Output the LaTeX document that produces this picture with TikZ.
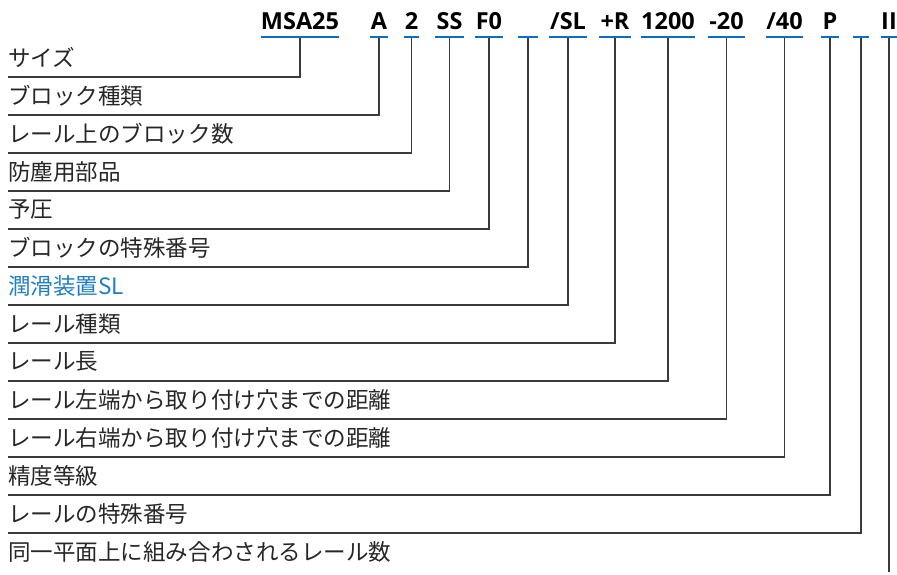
\documentclass[tikz,border=0pt]{standalone}
\usepackage{fontspec}
\newfontfamily\jpfont{Noto Sans CJK JP}
\newfontfamily\codefont{Open Sans}
\usetikzlibrary{positioning}
\definecolor{codeblue}{HTML}{0A6FBF}
\definecolor{slblue}{HTML}{1F7EC2}
\definecolor{linkgray}{HTML}{3A3A3A}
\definecolor{txtgray}{HTML}{262626}

\begin{document}
\begin{tikzpicture}[x=0.75pt,y=-0.75pt,
    codebox/.style={inner sep=0pt,text depth=5.25pt,anchor=south,
      font=\codefont\bfseries\fontsize{17.6pt}{19pt}\selectfont,text=black},
    lbl/.style={inner sep=0pt,minimum height=28.5pt,anchor=south west,
      font=\jpfont\fontsize{16.9pt}{19pt}\selectfont,text=txtgray},
    link/.style={draw=linkgray,line width=0.8pt},
    uline/.style={draw=codeblue,line width=2pt}]
  \useasboundingbox (0,0) rectangle (897,575);
  % order code
  \foreach \n/\xc/\w/\t in {1/300/78/MSA25, 2/379/18/A, 3/411.5/15/2,
      4/449.5/28/SS, 5/489/27/F0, 6/528/20/{}, 7/568/38/{/SL}, 8/615/31/{+R},
      9/668/54/1200, 10/726.5/36/{-20}, 11/784.5/36/{/40}, 12/830/17/P,
      13/861/16/{}, 14/889/15/II} {
    \node[codebox,minimum width=\w*0.75pt] (c\n) at (\xc,37) {\t};
  }
  % meanings
  \foreach \t [count=\i] in {サイズ, ブロック種類, レール上のブロック数, 防塵用部品,
      予圧, ブロックの特殊番号, {\color{slblue}潤滑装置SL}, レール種類, レール長,
      レール左端から取り付け穴までの距離, レール右端から取り付け穴までの距離,
      精度等級, レールの特殊番号, 同一平面上に組み合わされるレール数} {
    \node[lbl] (l\i) at (8,{77+38*(\i-1)}) {\t};
  }
  \coordinate (tail) at (889,572);
  \foreach \i in {1,...,13} {
    \draw[link] (c\i.south) |- (l\i.south west);
  }
  \draw[link] (c14.south) -- (c14.south |- tail);
  \foreach \i in {1,...,14} {
    \draw[uline] (c\i.south west) -- (c\i.south east);
  }
\end{tikzpicture}
\end{document}
